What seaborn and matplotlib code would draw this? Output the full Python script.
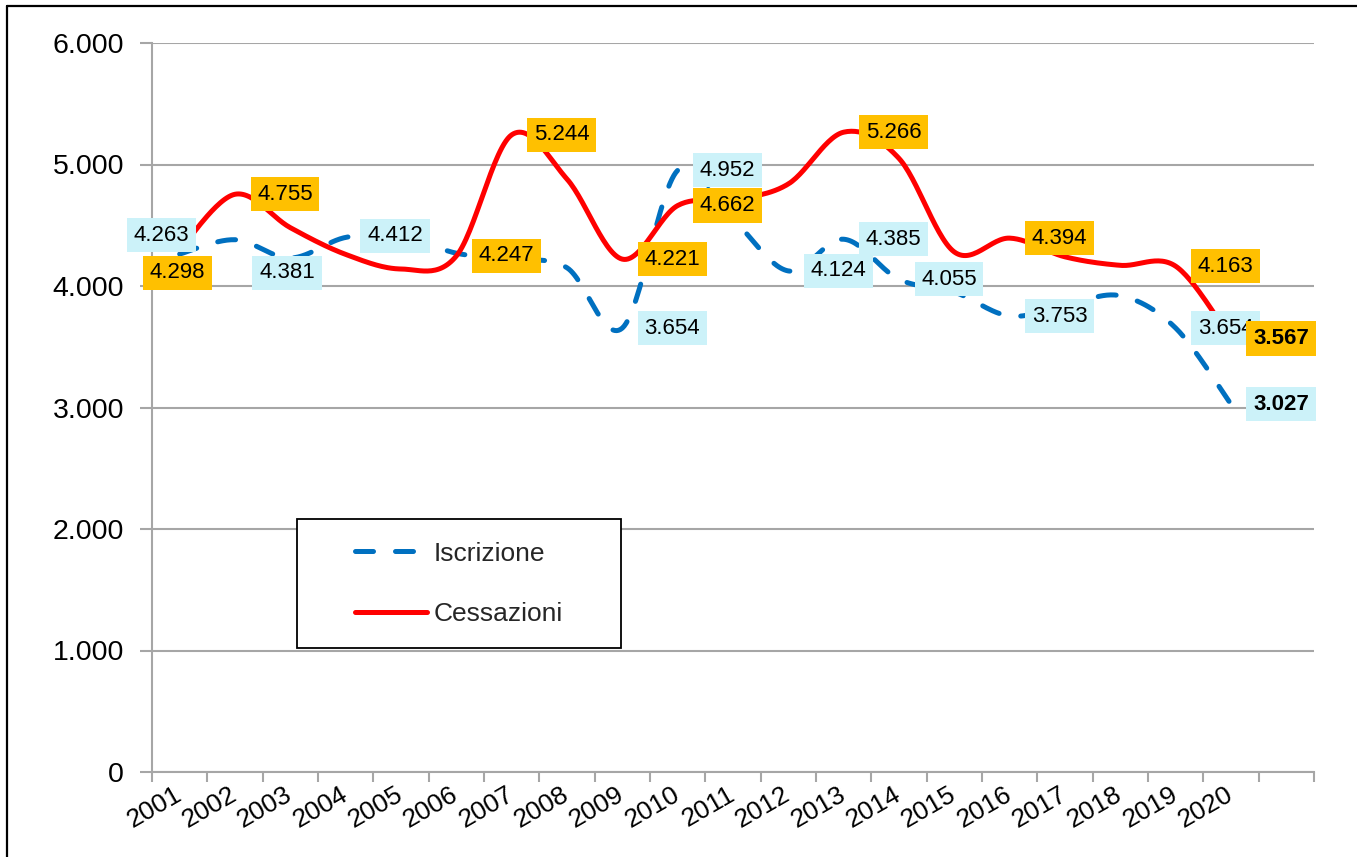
import numpy as np
import pandas as pd
import matplotlib
matplotlib.use("Agg")
import matplotlib.pyplot as plt
import seaborn as sns
from matplotlib.lines import Line2D
from matplotlib.patches import Rectangle

# ---------------- data ----------------
years = [str(y) for y in range(2001, 2021)]
iscrizione = [4263, 4381, 4230, 4400, 4412, 4270, 4220, 4150, 3654, 4952,
              4550, 4124, 4385, 4055, 3950, 3753, 3840, 3920, 3654, 3027]
cessazioni = [4298, 4755, 4480, 4260, 4140, 4247, 5244, 4880, 4221, 4662,
              4710, 4840, 5266, 5050, 4280, 4394, 4240, 4170, 4163, 3567]
series_names = ["Iscrizione", "Cessazioni"]
ytick_values = [0, 1000, 2000, 3000, 4000, 5000, 6000]

# years whose value is shown as a data label
iscr_labeled = ["2001", "2002", "2005", "2009", "2010", "2012", "2013",
                "2014", "2016", "2019", "2020"]
cess_labeled = ["2001", "2002", "2006", "2007", "2009", "2010", "2013",
                "2016", "2019", "2020"]

# ---------------- label placement (pixels, x right / y up) ----------------
RIGHT = (50, 0)
iscr_offsets = {"2001": (-18, 19), "2002": (52, -33), "2005": (-6, 0)}
cess_offsets = {"2001": (-2, -23)}

BLUE = "#0070C0"
RED = "#FF0000"
ORANGE = "#FFC000"
LIGHTBLUE = "#CCF2F9"
GRID = "#A6A6A6"

sns.set_theme(style="white")
plt.rcParams["font.family"] = ["Liberation Sans", "DejaVu Sans"]

W, H = 1357, 857
fig = plt.figure(figsize=(W / 100, H / 100), dpi=100)
ax = fig.add_axes([152 / W, 1 - 772 / H, (1314 - 152) / W, (772 - 43) / H])


def smooth(vals, n=30):
    """Excel-like smoothed line (Catmull-Rom Bezier through the points)."""
    p = np.column_stack([np.arange(len(vals)), np.asarray(vals, float)])
    m = len(p)
    t = np.linspace(0, 1, n)[:, None]
    out = []
    for i in range(m - 1):
        p0 = p[max(i - 1, 0)]
        p1 = p[i]
        p2 = p[i + 1]
        p3 = p[min(i + 2, m - 1)]
        c1 = p1 + (p2 - p0) / 6
        c2 = p2 - (p3 - p1) / 6
        seg = ((1 - t) ** 3) * p1 + 3 * ((1 - t) ** 2) * t * c1 + 3 * (1 - t) * t ** 2 * c2 + t ** 3 * p2
        out.append(seg if i == 0 else seg[1:])
    s = np.vstack(out)
    return pd.DataFrame({"x": s[:, 0], "y": s[:, 1]})


LW = 3.6
d_i = smooth(iscrizione)
sns.lineplot(data=d_i, x="x", y="y", ax=ax, color=BLUE, lw=LW, sort=False,
             estimator=None)
ln_i = ax.lines[-1]
ln_i.set_linestyle((0, (3.6, 4.4)))
ln_i.set_dash_capstyle("round")

d_c = smooth(cessazioni)
sns.lineplot(data=d_c, x="x", y="y", ax=ax, color=RED, lw=LW, sort=False,
             estimator=None)
ax.lines[-1].set_solid_capstyle("round")


def fmt(v):
    return f"{v:,}".replace(",", ".")


def add_labels(values, labeled, offsets, fc):
    for yr in labeled:
        idx = years.index(yr)
        v = values[idx]
        dx, dy = offsets.get(yr, RIGHT)
        bold = yr == years[-1]
        ax.annotate(fmt(v), xy=(idx, v), xytext=(dx, dy),
                    textcoords="offset pixels", ha="center", va="center",
                    fontsize=16, color="black",
                    fontweight="bold" if bold else "normal",
                    bbox=dict(boxstyle="square,pad=0.3", fc=fc, ec="none"),
                    zorder=5, annotation_clip=False)


add_labels(iscrizione, iscr_labeled, iscr_offsets, LIGHTBLUE)
add_labels(cessazioni, cess_labeled, cess_offsets, ORANGE)

# ---------------- axes ----------------
ax.set_xlim(-0.5, len(years) + 0.5)
ax.set_ylim(0, 6000)
ax.set_yticks(ytick_values)
ax.set_yticklabels([fmt(v) for v in ytick_values], fontsize=20.5, color="black")
ax.set_xticks(np.arange(-0.5, len(years) + 1, 1))
ax.set_xticklabels([])
ax.set_xticks(range(len(years)), minor=True)
ax.set_xticklabels(years, minor=True, rotation=30, ha="right", va="center",
                   rotation_mode="anchor", fontsize=19, color="black")
ax.tick_params(axis="x", which="major", length=7, width=1.5, color=GRID,
               direction="out", bottom=True)
ax.tick_params(axis="x", which="minor", length=0, pad=15, bottom=True)
ax.tick_params(axis="y", length=9, width=1.5, color=GRID, direction="out",
               pad=11, left=True)
ax.set_xlabel("")
ax.set_ylabel("")
ax.yaxis.grid(True, color=GRID, lw=1.5)
ax.xaxis.grid(False)
ax.set_axisbelow(True)
for s in ["top", "right"]:
    ax.spines[s].set_visible(False)
for s in ["left", "bottom"]:
    ax.spines[s].set_color(GRID)
    ax.spines[s].set_linewidth(1.5)

# ---------------- legend ----------------
box = Rectangle((297 / W, 1 - 648 / H), 324 / W, 129 / H, transform=fig.transFigure,
                fc="white", ec="black", lw=1.3, zorder=6, clip_on=False)
ax.add_patch(box)
handles = [
    Line2D([], [], color=BLUE, lw=LW, linestyle=(0, (3.6, 4.4)), dash_capstyle="round"),
    Line2D([], [], color=RED, lw=LW),
]
leg = ax.legend(handles, series_names, loc="center",
                bbox_to_anchor=(459 / W, 1 - 584 / H),
                bbox_transform=fig.transFigure, frameon=False, fontsize=19,
                handlelength=2.7, handletextpad=0.25, labelspacing=1.4)
leg.set_zorder(7)

# outer chart border (left and top edges visible)
fig.add_artist(Line2D([7 / W, 7 / W], [0, 1 - 6 / H], color="black", lw=1.6,
                      transform=fig.transFigure))
fig.add_artist(Line2D([7 / W, 1], [1 - 6 / H, 1 - 6 / H], color="black", lw=1.6,
                      transform=fig.transFigure))

fig.savefig("out.png", dpi=100, facecolor="white")
